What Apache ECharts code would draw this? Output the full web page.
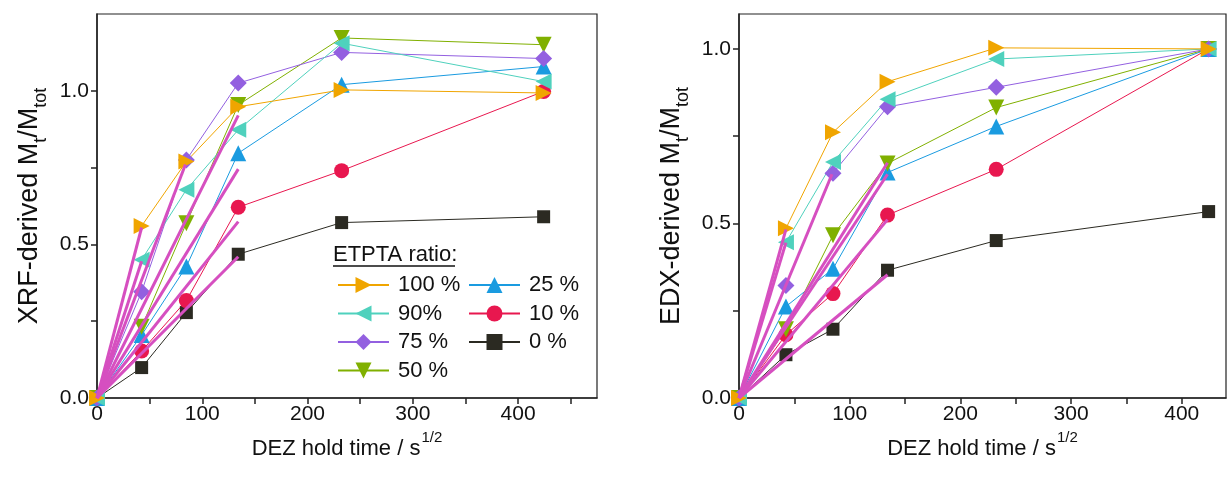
<!DOCTYPE html>
<html lang="en">
  <head>
    <meta charset="utf-8">
    <title>XRF / EDX derived Mt/Mtot</title>
    <script src="https://cdn.jsdelivr.net/npm/echarts@6/dist/echarts.min.js"></script>
    <style>
      html, body { margin: 0; padding: 0; background: #fff; }
      #chart { width: 1227px; height: 480px; }
    </style>
  </head>
  <body>
    <div id="chart"></div>
    <script type="text/javascript">
    // hold time (s^1/2), shared by both panels
    const holdTimes = [0, 42.4, 84.9, 134.2, 232.4, 424.3];

    const ratioNames = ['100 %', '90%', '75 %', '50 %', '25 %', '10 %', '0 %'];

    // XRF-derived Mt/Mtot
    const xrf100 = [0, 0.56, 0.77, 0.948, 1.003, 0.993];
    const xrf90 = [0, 0.45, 0.678, 0.873, 1.155, 1.03];
    const xrf75 = [0, 0.346, 0.775, 1.025, 1.125, 1.105];
    const xrf50 = [0, 0.232, 0.569, 0.954, 1.172, 1.15];
    const xrf25 = [0, 0.205, 0.428, 0.797, 1.02, 1.079];
    const xrf10 = [0, 0.153, 0.317, 0.621, 0.74, 0.998];
    const xrf0 = [0, 0.099, 0.278, 0.468, 0.571, 0.59];

    // EDX-derived Mt/Mtot
    const edx100 = [0, 0.486, 0.761, 0.906, 1.003, 1.0];
    const edx90 = [0, 0.446, 0.676, 0.856, 0.971, 1.0];
    const edx75 = [0, 0.322, 0.644, 0.834, 0.89, 1.0];
    const edx50 = [0, 0.197, 0.466, 0.672, 0.832, 1.0];
    const edx25 = [0, 0.262, 0.37, 0.646, 0.778, 1.0];
    const edx10 = [0, 0.181, 0.299, 0.524, 0.655, 1.0];
    const edx0 = [0, 0.124, 0.197, 0.366, 0.451, 0.534];

    // initial-slope fit lines from the origin: end x and end y, one per ratio
    const fitEndX = [42.4, 42.4, 84, 134.2, 134.2, 134.2, 134.2];
    const xrfFitEndY = [0.555, 0.445, 0.76, 0.92, 0.745, 0.574, 0.46];
    const edxFitEndY = [0.483, 0.445, 0.641, 0.674, 0.641, 0.511, 0.353];

    const xTickValues = [0, 50, 100, 150, 200, 250, 300, 350, 400, 450];
    const xLabelValues = [0, 100, 200, 300, 400];
    const yTickValues = [0, 0.25, 0.5, 0.75, 1.0];
    const yLabelValues = [0, 0.5, 1.0];

    const colors = ['#f0a500', '#4fd1bd', '#9360e0', '#80b000', '#1a9be0', '#e8174f', '#2b2a22'];
    const symbols = [
      'path://M0,0 L10,5 L0,10 Z',
      'path://M10,0 L0,5 L10,10 Z',
      'diamond',
      'path://M0,0 L10,0 L5,10 Z',
      'path://M5,0 L10,10 L0,10 Z',
      'circle',
      'rect'
    ];
    const symbolSizes = [16, 16, 17, 16, 16, 15, 13];
    const fitColor = '#d64fc0';
    const font = '"Liberation Sans", Arial, sans-serif';

    const xrfData = [xrf100, xrf90, xrf75, xrf50, xrf25, xrf10, xrf0];
    const edxData = [edx100, edx90, edx75, edx50, edx25, edx10, edx0];

    // 0 % drawn first, 100 % last (on top), as in the original
    function dataSeries(sets, gridIdx) {
      return sets.map((vals, i) => ({
        name: ratioNames[i],
        type: 'line',
        xAxisIndex: gridIdx,
        yAxisIndex: gridIdx,
        data: holdTimes.map((x, k) => [x, vals[k]]),
        symbol: symbols[i],
        symbolSize: symbolSizes[i],
        showAllSymbol: true,
        itemStyle: { color: colors[i] },
        lineStyle: { color: colors[i], width: 1 },
        emphasis: { disabled: true },
        z: 3
      })).reverse();
    }

    function fitSeries(endY, gridIdx) {
      return endY.map((y, i) => ({
        name: 'fit',
        type: 'line',
        xAxisIndex: gridIdx,
        yAxisIndex: gridIdx,
        data: [[0, 0], [fitEndX[i], y]],
        symbol: 'none',
        lineStyle: { color: fitColor, width: 3 },
        emphasis: { disabled: true },
        z: 4
      }));
    }

    function xAxis(gridIdx, max) {
      return {
        type: 'value',
        gridIndex: gridIdx,
        min: 0,
        max: max,
        name: '{a|DEZ hold time / s}{sup|1/2}',
        nameLocation: 'middle',
        nameGap: 20,
        nameTextStyle: {
          rich: {
            a: { fontFamily: font, fontSize: 22, color: '#111', lineHeight: 30, verticalAlign: 'bottom' },
            sup: { fontFamily: font, fontSize: 15, color: '#111', lineHeight: 30, verticalAlign: 'top', padding: [0, 0, 10, 1] }
          }
        },
        axisLine: { lineStyle: { color: '#222', width: 1.5 } },
        axisTick: { inside: false, length: 6, customValues: xTickValues, lineStyle: { color: '#222', width: 1.5 } },
        axisLabel: { customValues: xLabelValues, fontFamily: font, fontSize: 21, color: '#111', margin: 6 },
        splitLine: { show: false }
      };
    }

    function yAxis(gridIdx, max, prefix) {
      return {
        type: 'value',
        gridIndex: gridIdx,
        min: 0,
        max: max,
        name: '{a|' + prefix + ' M}{sub|t}{a|/M}{sub|tot}',
        nameLocation: 'middle',
        nameRotate: 90,
        nameGap: 47,
        nameTextStyle: {
          rich: {
            a: { fontFamily: font, fontSize: 27, color: '#111', lineHeight: 34, verticalAlign: 'top' },
            sub: { fontFamily: font, fontSize: 18, color: '#111', lineHeight: 34, verticalAlign: 'bottom', padding: [12, 0, 0, 0] }
          }
        },
        axisLine: { lineStyle: { color: '#222', width: 1.5 } },
        axisTick: { inside: false, length: 6, customValues: yTickValues, lineStyle: { color: '#222', width: 1.5 } },
        axisLabel: {
          customValues: yLabelValues,
          fontFamily: font, fontSize: 21, color: '#111', margin: 8,
          formatter: v => v.toFixed(1)
        },
        splitLine: { show: false }
      };
    }

    const chart = echarts.init(document.getElementById('chart'), null, { renderer: 'canvas' });

    const legendCommon = {
      orient: 'vertical',
      padding: 0,
      itemWidth: 51,
      itemHeight: 20,
      itemGap: 6.5,
      selectedMode: false,
      textStyle: { fontFamily: font, fontSize: 22, color: '#111', padding: [0, 0, 0, 4] }
    };

    chart.setOption({
      animation: false,
      backgroundColor: '#fff',
      grid: [
        { left: 97, top: 14, width: 500, height: 384, show: true, borderColor: '#222', borderWidth: 1.2, backgroundColor: 'transparent' },
        { left: 739, top: 14, width: 487, height: 384, show: true, borderColor: '#222', borderWidth: 1.2, backgroundColor: 'transparent' }
      ],
      xAxis: [xAxis(0, 475), xAxis(1, 440)],
      yAxis: [yAxis(0, 1.25, 'XRF-derived'), yAxis(1, 1.1, 'EDX-derived')],
      legend: [
        Object.assign({ left: 337, top: 274, data: ratioNames.slice(0, 4) }, legendCommon),
        Object.assign({ left: 468, top: 274, data: ratioNames.slice(4) }, legendCommon)
      ],
      graphic: [
        {
          type: 'text',
          left: 333,
          top: 244,
          style: { text: 'ETPTA ratio:', font: '22px ' + font, fill: '#111' }
        },
        {
          type: 'line',
          shape: { x1: 333, y1: 266, x2: 455, y2: 266 },
          style: { stroke: '#111', lineWidth: 1.3 }
        }
      ],
      series: [].concat(
        dataSeries(xrfData, 0),
        dataSeries(edxData, 1),
        fitSeries(xrfFitEndY, 0),
        fitSeries(edxFitEndY, 1)
      )
    });
    </script>
  </body>
</html>
